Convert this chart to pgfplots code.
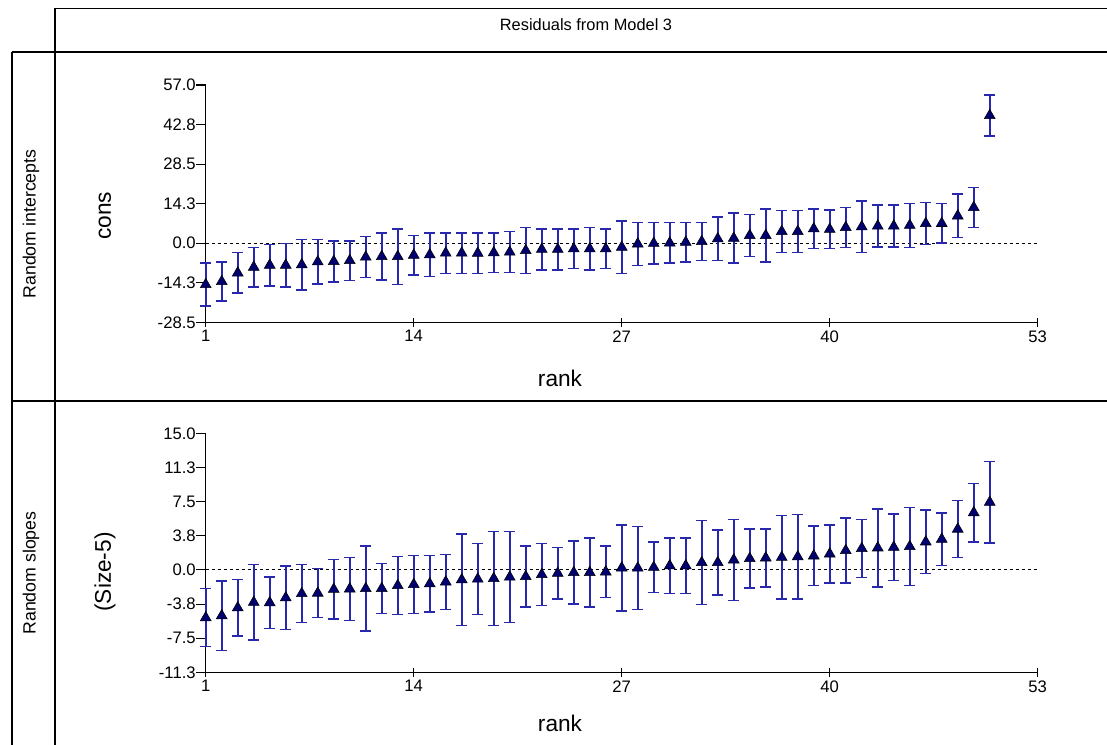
\documentclass[border=0pt]{standalone}
\usepackage{pgfplots}
\usepackage{pgfplotstable}
\pgfplotsset{compat=1.18}
\usepackage{fontspec}
\setmainfont{Liberation Sans}
\definecolor{navy}{RGB}{0,0,110}
\definecolor{barblue}{RGB}{40,40,175}

\pgfplotstableread{
x y e
1 -14.9 7.7
2 -13.8 7.0
3 -10.7 7.3
4 -8.65 7.1
5 -7.9 7.5
6 -7.9 7.8
7 -7.75 9.1
8 -6.7 8.05
9 -6.55 7.4
10 -6.25 7.1
11 -5.0 7.4
12 -4.8 8.5
13 -4.8 10.0
14 -4.3 7.1
15 -4.15 7.9
16 -3.55 7.3
17 -3.55 7.3
18 -3.6 7.3
19 -3.4 7.15
20 -3.2 7.4
21 -2.65 8.3
22 -2.2 7.4
23 -2.2 7.4
24 -2.0 7.15
25 -2.0 7.6
26 -2.0 7.15
27 -1.45 9.5
28 -0.25 7.7
29 -0.05 7.5
30 0.1 7.3
31 0.35 7.1
32 0.6 6.85
33 1.6 7.9
34 1.8 9.0
35 2.8 7.5
36 2.8 9.55
37 4.25 7.6
38 4.25 7.6
39 5.2 7.15
40 5.0 6.9
41 5.7 7.15
42 5.95 9.3
43 6.2 7.6
44 6.2 7.6
45 6.45 7.9
46 7.1 7.6
47 7.15 7.15
48 9.85 7.8
49 12.9 7.15
50 46.0 7.4
}\intercepts

\pgfplotstableread{
x y e
1 -5.25 3.19
2 -5.03 3.82
3 -4.16 3.10
4 -3.56 4.15
5 -3.6 2.82
6 -3.06 3.5
7 -2.6 3.19
8 -2.55 2.7
9 -2.13 3.26
10 -2.09 3.45
11 -2.05 4.66
12 -2.04 2.73
13 -1.72 3.19
14 -1.6 3.17
15 -1.52 3.1
16 -1.32 3.04
17 -1.08 5.0
18 -1.01 3.9
19 -0.94 5.15
20 -0.79 5.0
21 -0.73 3.34
22 -0.51 3.41
23 -0.37 2.82
24 -0.29 3.48
25 -0.28 3.8
26 -0.22 2.82
27 0.22 4.73
28 0.2 4.57
29 0.28 2.77
30 0.46 3.06
31 0.46 3.06
32 0.81 4.59
33 0.81 3.56
34 1.1 4.44
35 1.25 3.26
36 1.32 3.19
37 1.38 4.57
38 1.45 4.64
39 1.54 3.26
40 1.76 3.19
41 2.13 3.56
42 2.35 3.19
43 2.42 4.29
44 2.49 3.63
45 2.57 4.29
46 3.08 3.48
47 3.37 2.9
48 4.48 3.12
49 6.29 3.21
50 7.43 4.49
}\slopes

\pgfplotsset{
  resid/.style={
    scale only axis, width=624pt, xmin=1, xmax=53,
    axis x line=bottom, axis y line=left,
    axis line style={-, line width=0.9pt, black},
    xtick={1,14,27,40,53}, xticklabels={1,14,27,40,53},
    tick align=center, major tick length=7pt,
    tick style={black, line width=0.8pt},
    ytick style={xshift=-3.5pt},
    ticklabel style={font=\fontsize{12.5}{14}\selectfont},
    yticklabel style={xshift=-0.5pt},
    xticklabel style={yshift=1pt},
    clip=false,
  },
  errplot/.style={
    color=barblue, line width=1.2pt, only marks, mark=*, mark size=0.01pt,
    error bars/.cd, y dir=both, y explicit,
    error bar style={barblue, line width=1.2pt},
    error mark options={barblue, line width=1.1pt, mark size=4pt, rotate=90},
  },
  markplot/.style={
    only marks, mark=triangle*, mark size=4.7pt,
    mark options={fill=navy, draw=black, line width=0.4pt},
  },
}

\begin{document}
\begin{tikzpicture}
\path[use as bounding box] (0,0) rectangle (830.25pt,558.75pt);
% frame
\draw[line width=0.9pt] (41.25pt,552.4pt) -- (830.25pt,552.4pt);
\draw[line width=1.5pt] (9pt,519.75pt) -- (830.25pt,519.75pt);
\draw[line width=1.5pt] (9pt,258pt) -- (830.25pt,258pt);
\draw[line width=1.5pt] (41.25pt,0pt) -- (41.25pt,552.4pt);
\draw[line width=0.9pt] (9pt,0pt) -- (9pt,519.75pt);
% texts
\node[font=\fontsize{12.3}{14}\selectfont] at (439.5pt,540.5pt) {Residuals from Model 3};
\node[font=\fontsize{13.3}{15}\selectfont, rotate=90] at (23.25pt,390.75pt) {Random intercepts};
\node[font=\fontsize{13.3}{15}\selectfont, rotate=90] at (23.25pt,129pt) {Random slopes};
\node[font=\fontsize{17}{20}\selectfont, rotate=90] at (78.75pt,396.75pt) {cons};
\node[font=\fontsize{17}{20}\selectfont, rotate=90] at (78.75pt,129.75pt) {(Size-5)};
\node[font=\fontsize{17}{20}\selectfont] at (420pt,275.25pt) {rank};
\node[font=\fontsize{17}{20}\selectfont] at (420pt,16.5pt) {rank};

\begin{axis}[resid, at={(154.3pt,317pt)}, anchor=south west, height=178pt,
  ymin=-28.5, ymax=57,
  ytick={-28.5,-14.25,0,14.25,28.5,42.75,57},
  yticklabels={-28.5,-14.3,0.0,14.3,28.5,42.8,57.0}]
\draw[dashed, dash pattern=on 2.25pt off 2.25pt, line width=0.6pt] (axis cs:1,0) -- (axis cs:53,0);
\addplot[errplot] table[x=x, y=y, y error=e] {\intercepts};
\addplot[markplot] table[x=x, y=y] {\intercepts};
\end{axis}

\begin{axis}[resid, at={(154.3pt,54.5pt)}, anchor=south west, height=179.25pt,
  ymin=-11.25, ymax=15,
  ytick={-11.25,-7.5,-3.75,0,3.75,7.5,11.25,15},
  yticklabels={-11.3,-7.5,-3.8,0.0,3.8,7.5,11.3,15.0}]
\draw[dashed, dash pattern=on 2.25pt off 2.25pt, line width=0.6pt] (axis cs:1,0) -- (axis cs:53,0);
\addplot[errplot] table[x=x, y=y, y error=e] {\slopes};
\addplot[markplot] table[x=x, y=y] {\slopes};
\end{axis}
\end{tikzpicture}
\end{document}
